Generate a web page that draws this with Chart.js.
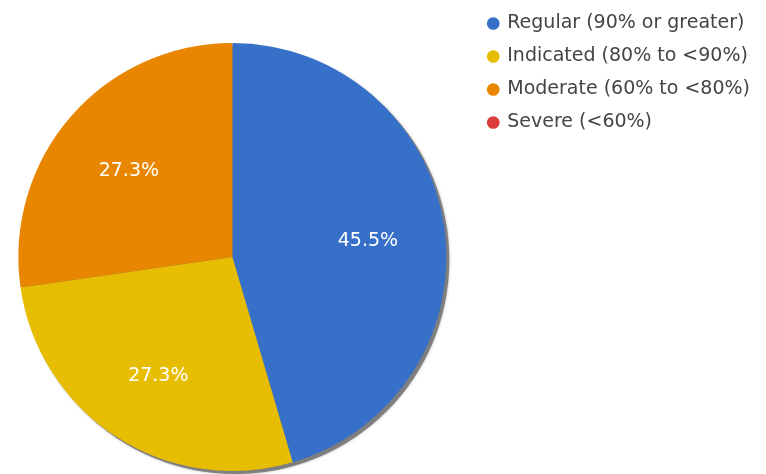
<!DOCTYPE html>
<html>
<head>
<meta charset="utf-8">
<script src="https://cdn.jsdelivr.net/npm/chart.js@4.4.1/dist/chart.umd.min.js"></script>
<style>
  html, body { margin: 0; padding: 0; background: #fff; }
  canvas { display: block; }
</style>
</head>
<body>
<canvas id="pieChart" width="766" height="474"></canvas>
<script>
const CHART = document.getElementById('pieChart');

// categories and counts (5/11, 3/11, 3/11, 0)
var labels = ['Regular (90% or greater)', 'Indicated (80% to <90%)', 'Moderate (60% to <80%)', 'Severe (<60%)'];
var values = [5, 3, 3, 0];
var colors = ['#3670c8', '#e6bd00', '#e88600', '#de3b3b'];

// push the legend a bit further away from the pie
var legendGap = {
  id: 'legendGap',
  afterLayout: function(chart) {
    if (!chart.legend) return;
    chart.legend.left += 28;
    chart.legend.right += 28;
  }
};

// grey drop shadow behind the pie
var pieShadow = {
  id: 'pieShadow',
  beforeDatasetsDraw: function(chart) {
    var arc = chart.getDatasetMeta(0).data[0];
    if (!arc) return;
    var ctx = chart.ctx;
    ctx.save();
    ctx.fillStyle = 'rgba(120,120,120,0.9)';
    ctx.shadowColor = 'rgba(120,120,120,0.6)';
    ctx.shadowBlur = 3;
    ctx.beginPath();
    ctx.arc(arc.x + 3, arc.y + 3, arc.outerRadius, 0, Math.PI * 2);
    ctx.fill();
    ctx.restore();
  }
};

// percentage text inside each slice
var sliceLabels = {
  id: 'sliceLabels',
  afterDatasetsDraw: function(chart) {
    var ctx = chart.ctx;
    var total = values.reduce(function(a, b) { return a + b; }, 0);
    ctx.save();
    ctx.font = '19px "DejaVu Sans"';
    ctx.fillStyle = '#ffffff';
    ctx.textAlign = 'center';
    ctx.textBaseline = 'middle';
    chart.getDatasetMeta(0).data.forEach(function(arc, i) {
      if (!values[i]) return;
      var mid = (arc.startAngle + arc.endAngle) / 2;
      var r = arc.outerRadius * 0.64;
      var txt = (values[i] / total * 100).toFixed(1) + '%';
      ctx.fillText(txt, arc.x + Math.cos(mid) * r, arc.y + Math.sin(mid) * r + 4);
    });
    ctx.restore();
  }
};

var pieChart = new Chart(CHART, {
  type: 'pie',
  data: {
    labels: labels,
    datasets: [{
      data: values,
      backgroundColor: colors,
      borderWidth: 0
    }]
  },
  options: {
    responsive: false,
    animation: false,
    devicePixelRatio: 1,
    layout: {
      padding: { left: 18, right: 34, top: 0, bottom: 3 }
    },
    plugins: {
      // empty title only used as a spacer above the pie
      title: {
        display: true,
        text: '',
        fullSize: false,
        font: { size: 1, lineHeight: 1 },
        padding: { top: 42, bottom: 0 }
      },
      legend: {
        position: 'right',
        align: 'start',
        fullSize: true,
        labels: {
          usePointStyle: true,
          pointStyle: 'circle',
          boxWidth: 9,
          boxHeight: 9,
          padding: 14,
          color: '#444444',
          font: { family: '"DejaVu Sans"', size: 19 }
        }
      },
      tooltip: { enabled: false }
    }
  },
  plugins: [legendGap, pieShadow, sliceLabels]
});
</script>
</body>
</html>
